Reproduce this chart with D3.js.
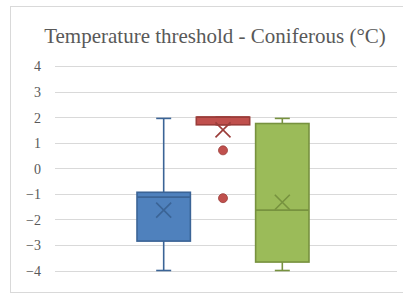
<!DOCTYPE html>
<html lang="en">
<head>
  <meta charset="UTF-8">
  <title>Temperature threshold - Coniferous</title>
  <script src="https://d3js.org/d3.v7.min.js"></script>
  <style>
    html, body { width:100%; height:100%; margin:0; overflow:hidden; background:#fff; }
    svg { display:block; }
    .grid line { stroke:#d9d9d9; stroke-width:1px; }
    .axis text { font-family:"Liberation Serif", "Times New Roman", "DejaVu Serif", serif; font-size:14px; fill:#595959; }
    .title { font-family:"Liberation Serif", "Times New Roman", "DejaVu Serif", serif; font-size:21px; fill:#595959; }
  </style>
</head>
<body>
  <svg id="chart" width="403" height="299"></svg>
  <script>
    // box statistics
    const series  = ["A", "B", "C"];
    const lowW    = [-4, 1.7, -4];
    const q1      = [-2.85, 1.7, -3.67];
    const median  = [-1.13, 2, -1.64];
    const q3      = [-0.94, 2, 1.75];
    const highW   = [1.95, 2, 1.95];
    const means   = [-1.64, 1.5, -1.33];
    const outliers = [[], [0.7, -1.17], []];
    const fills   = ["#4f81bd", "#c0504d", "#9bbb59"];
    const strokes = ["#3b6496", "#9b3d3a", "#77923f"];
    const ticks   = [-4, -3, -2, -1, 0, 1, 2, 3, 4];

    const svg = d3.select("#chart");
    const W = 403, H = 299;
    const m = {top:66, right:6, bottom:28, left:55};

    svg.append("rect")
      .attr("x", 10.5).attr("y", 6.5)
      .attr("width", W - 10).attr("height", H - 13)
      .attr("fill", "#fff").attr("stroke", "#d9d9d9");

    svg.append("text").attr("class", "title")
      .attr("x", 215).attr("y", 43)
      .attr("text-anchor", "middle")
      .text("Temperature threshold - Coniferous (°C)");

    const y = d3.scaleLinear().domain([-4, 4]).range([H - m.bottom - 0.5, m.top]);
    const x = d3.scaleBand().domain(series).range([137, 309]).paddingInner(0.1);

    svg.append("g").attr("class", "grid")
      .selectAll("line").data(ticks).join("line")
        .attr("x1", m.left).attr("x2", W - m.right)
        .attr("y1", d => Math.round(y(d)) + 0.5).attr("y2", d => Math.round(y(d)) + 0.5);

    const ax = svg.append("g").attr("class", "axis")
      .attr("transform", `translate(${m.left - 14},0)`)
      .call(d3.axisLeft(y).tickValues(ticks).tickSize(0).tickPadding(0));
    ax.attr("font-family", null).attr("font-size", null);
    ax.select(".domain").remove();
    ax.selectAll("text").attr("dy", "0.35em");

    const g = svg.append("g");
    series.forEach((s, i) => {
      const cx = x(s) + x.bandwidth() / 2;
      const bw = x.bandwidth();
      const cap = 7.5;
      const gi = g.append("g").attr("stroke", strokes[i]).attr("stroke-width", 1.6);

      // whiskers
      gi.append("line").attr("x1", cx).attr("x2", cx).attr("y1", y(highW[i])).attr("y2", y(q3[i]));
      gi.append("line").attr("x1", cx).attr("x2", cx).attr("y1", y(q1[i])).attr("y2", y(lowW[i]));
      [highW[i], lowW[i]].forEach(v => {
        gi.append("line").attr("x1", cx - cap).attr("x2", cx + cap).attr("y1", y(v)).attr("y2", y(v));
      });

      // box
      gi.append("rect")
        .attr("x", x(s)).attr("y", y(q3[i]))
        .attr("width", bw).attr("height", Math.max(1, y(q1[i]) - y(q3[i])))
        .attr("fill", fills[i]);

      // median
      gi.append("line").attr("x1", x(s)).attr("x2", x(s) + bw)
        .attr("y1", y(median[i])).attr("y2", y(median[i]));

      // mean marker
      const r = 7.5, my = y(means[i]);
      gi.append("path")
        .attr("d", `M${cx - r},${my - r}L${cx + r},${my + r}M${cx - r},${my + r}L${cx + r},${my - r}`)
        .attr("fill", "none");

      // outliers
      outliers[i].forEach(v => {
        g.append("circle").attr("cx", cx).attr("cy", y(v)).attr("r", 4.5)
          .attr("fill", fills[i]).attr("stroke", strokes[i]).attr("stroke-width", 0.8);
      });
    });
  </script>
</body>
</html>
